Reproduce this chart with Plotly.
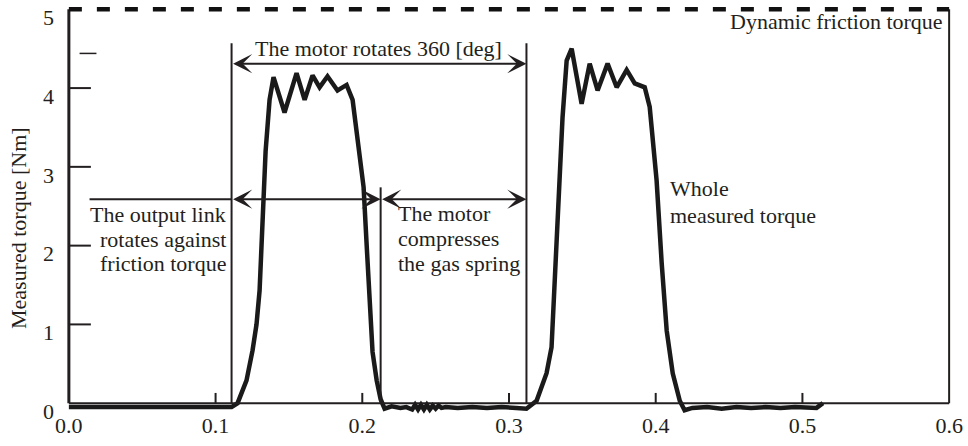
import plotly.graph_objects as go

# ---------------- data ----------------
time_s = [0.000, 0.010, 0.020, 0.030, 0.040, 0.050, 0.060, 0.070, 0.080, 0.090,
          0.100, 0.108, 0.1109, 0.1150, 0.1211, 0.1252, 0.1279, 0.1300, 0.1320,
          0.1341, 0.1368, 0.1395, 0.1470, 0.1552, 0.1607, 0.1661, 0.1709, 0.1763,
          0.1831, 0.1893, 0.1934, 0.1981, 0.2009, 0.2030, 0.2050, 0.2070, 0.2098,
          0.2125, 0.2152, 0.2200, 0.2260, 0.2300, 0.2340, 0.2360, 0.2380, 0.2400,
          0.2420, 0.2440, 0.2460, 0.2480, 0.2500, 0.2520, 0.2540, 0.2570, 0.2650,
          0.2750, 0.2850, 0.2950, 0.3050, 0.3100, 0.3119, 0.3188, 0.3256, 0.3290,
          0.3310, 0.3331, 0.3365, 0.3393, 0.3427, 0.3495, 0.3550, 0.3604, 0.3672,
          0.3734, 0.3802, 0.3857, 0.3925, 0.3959, 0.3979, 0.4006, 0.4041, 0.4075,
          0.4116, 0.4164, 0.4197, 0.4250, 0.4350, 0.4450, 0.4550, 0.4650, 0.4750,
          0.4850, 0.4950, 0.5050, 0.5096, 0.5140]
torque_nm = [-0.05, -0.05, -0.06, -0.05, -0.05, -0.06, -0.05, -0.05, -0.06, -0.05,
             -0.05, -0.06, -0.05, 0.00, 0.29, 0.67, 1.00, 1.43, 2.30,
             3.20, 3.85, 4.14, 3.69, 4.19, 3.85, 4.16, 4.01, 4.15,
             3.97, 4.04, 3.85, 3.21, 2.74, 2.00, 1.20, 0.65, 0.29,
             0.05, -0.07, -0.04, -0.06, -0.05, -0.08, -0.02, -0.08, -0.02,
             -0.08, -0.02, -0.08, -0.03, -0.07, -0.03, -0.06, -0.05, -0.06,
             -0.05, -0.06, -0.05, -0.06, -0.06, -0.07, 0.03, 0.38, 0.71,
             1.50, 2.57, 3.63, 4.35, 4.50, 3.80, 4.31, 3.97, 4.31,
             4.01, 4.23, 4.06, 4.01, 3.76, 3.34, 2.83, 1.77, 0.92,
             0.38, 0.03, -0.09, -0.06, -0.05, -0.07, -0.05, -0.06, -0.05,
             -0.06, -0.05, -0.06, -0.06, 0.00]

dynamic_friction = 5.0

x_ticks = [0.0, 0.1, 0.2, 0.3, 0.4, 0.5, 0.6]
x_tick_labels = ["0.0", "0.1", "0.2", "0.3", "0.4", "0.5", "0.6"]
y_ticks = [0, 1, 2, 3, 4, 5]
y_tick_labels = ["0", "1", "2", "3", "4", "5"]

# phase boundaries [s]
t_start = 0.1109
t_mid = 0.2125
t_end = 0.3119

x_title = "time [s]"
y_title = "Measured torque [Nm]"
label_rotate = "The motor rotates 360 [deg]"
label_output = ["The output link", "rotates against", "friction torque"]
label_spring = ["The motor", "compresses", "the gas spring"]
label_whole = ["Whole", "measured torque"]
label_friction = "Dynamic friction torque"

# ---------------- figure ----------------
INK = "#231f20"
FONT = "Liberation Serif"
FS = 22

fig = go.Figure()
fig.add_trace(go.Scatter(x=time_s, y=torque_nm, mode="lines",
                         line=dict(color="#1a1a1a", width=4.5),
                         showlegend=False, hoverinfo="skip"))

shapes = []
# frame
shapes.append(dict(type="line", x0=0, x1=0, y0=0, y1=dynamic_friction,
                   line=dict(color=INK, width=3)))
shapes.append(dict(type="line", x0=0, x1=0.6, y0=0, y1=0,
                   line=dict(color=INK, width=2)))
shapes.append(dict(type="line", x0=0.6, x1=0.6, y0=0, y1=dynamic_friction,
                   line=dict(color=INK, width=2)))
# dynamic friction torque (dashed)
shapes.append(dict(type="line", x0=0, x1=0.6, y0=dynamic_friction, y1=dynamic_friction,
                   line=dict(color="#111", width=4.5, dash="13px,15px")))
# tick marks (inside)
for v in y_ticks[1:-1]:
    shapes.append(dict(type="line", x0=0, x1=0.015, y0=v, y1=v,
                       line=dict(color=INK, width=2)))
for v in x_ticks[1:-1]:
    shapes.append(dict(type="line", x0=v, x1=v, y0=0, y1=0.13,
                       line=dict(color=INK, width=2)))
# stray short mark
shapes.append(dict(type="line", x0=0.0073, x1=0.0188, y0=4.44, y1=4.44,
                   line=dict(color=INK, width=1.5)))
# phase boundary lines
shapes.append(dict(type="line", x0=t_start, x1=t_start, y0=0, y1=4.57,
                   line=dict(color=INK, width=2)))
shapes.append(dict(type="line", x0=t_end, x1=t_end, y0=0, y1=4.57,
                   line=dict(color=INK, width=2)))
shapes.append(dict(type="line", x0=t_mid, x1=t_mid, y0=0, y1=2.74,
                   line=dict(color=INK, width=2)))
# plain segment of middle arrow row
shapes.append(dict(type="line", x0=0.0141, x1=t_start, y0=2.59, y1=2.59,
                   line=dict(color=INK, width=2)))

annotations = []
def arrow(x0, x1, y):
    annotations.append(dict(x=x1, y=y, ax=x0, ay=y, xref="x", yref="y",
                            axref="x", ayref="y", text="", showarrow=True,
                            arrowhead=3, startarrowhead=3, arrowside="end+start",
                            arrowsize=1.6, startarrowsize=1.6, arrowwidth=2,
                            arrowcolor=INK, standoff=0, startstandoff=0))

arrow(t_start, t_end, 4.31)
arrow(t_start, t_mid, 2.59)
arrow(t_mid, t_end, 2.59)

PXU = 78.78  # px per Nm, for converting baselines

def txt(text, x, y_px, xanchor="left"):
    yval = (403.2 - y_px) / PXU
    annotations.append(dict(x=x, y=yval, xref="x", yref="y", text=text,
                            showarrow=False, xanchor=xanchor, yanchor="middle",
                            font=dict(family=FONT, size=FS, color=INK)))

def px2t(px):
    return (px - 68.9) / 1467.1

txt(label_rotate, px2t(379), 48.6, "center")
for i, s in enumerate(label_output):
    txt(s, px2t(228), 214.6 + 24.5 * i, "right")
for i, s in enumerate(label_spring):
    txt(s, px2t(396), 213.6 + 25 * i, "left")
for i, s in enumerate(label_whole):
    txt(s, px2t(668), 189 + 26.5 * i, "left")
txt(label_friction, px2t(945), 21.6, "right")
txt(x_title, px2t(451), 432, "center")

annotations.append(dict(x=-0.0493, y=(403.2 - 228) / PXU, xref="paper", yref="y",
                        text=y_title, textangle=-90, showarrow=False,
                        xanchor="center", yanchor="middle",
                        font=dict(family=FONT, size=FS, color=INK)))

fig.update_layout(
    width=968, height=446,
    margin=dict(l=63, r=13, t=3, b=31),
    paper_bgcolor="white", plot_bgcolor="white",
    shapes=shapes, annotations=annotations,
    font=dict(family=FONT, size=FS, color=INK),
    xaxis=dict(range=[-0.004, 0.604], showgrid=False, zeroline=False,
               showline=False, ticks="", tickvals=x_ticks, ticktext=x_tick_labels,
               anchor="free", position=0.012,
               tickfont=dict(family=FONT, size=FS, color=INK)),
    yaxis=dict(range=[-0.15, 5.08], showgrid=False, zeroline=False,
               showline=False, ticks="", tickvals=y_ticks, ticktext=y_tick_labels,
               ticklabelshift=8, ticklabelstandoff=8,
               tickfont=dict(family=FONT, size=FS, color=INK)),
)

fig.write_html("out.html")
